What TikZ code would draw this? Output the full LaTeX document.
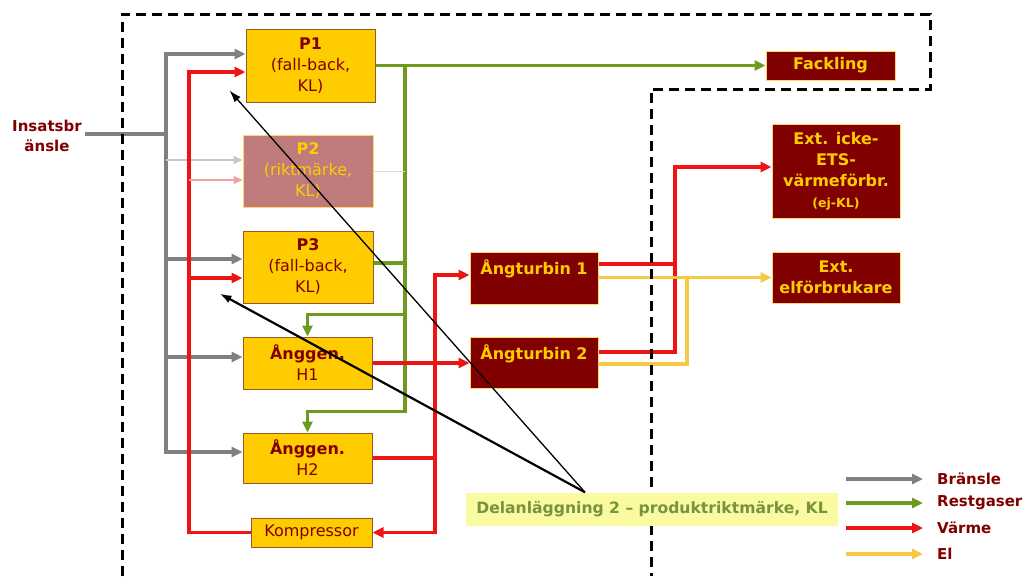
\documentclass[tikz,border=0pt]{standalone}
\usepackage{fontspec}
\setmainfont{DejaVu Sans}
\usetikzlibrary{arrows.meta,calc}
\pgfdeclarelayer{bg}
\pgfsetlayers{bg,main}
\definecolor{boxyel}{RGB}{255,204,0}
\definecolor{boxedge}{RGB}{150,90,40}
\definecolor{maroon}{RGB}{128,0,0}
\definecolor{rosy}{RGB}{192,124,124}
\definecolor{paleedge}{RGB}{255,215,100}
\definecolor{flowgrey}{RGB}{128,128,128}
\definecolor{flowgreen}{RGB}{108,155,30}
\definecolor{flowred}{RGB}{238,20,20}
\definecolor{flowyel}{RGB}{245,200,70}
\definecolor{fadegrey}{RGB}{200,200,200}
\definecolor{fadered}{RGB}{245,160,160}
\definecolor{fadegreen}{RGB}{215,225,200}
\definecolor{notefill}{RGB}{250,250,160}
\definecolor{notetext}{RGB}{119,147,60}
\newcommand{\mainsize}{\fontsize{15}{21}\selectfont}
\newcommand{\unitsize}{\fontsize{16}{21}\selectfont}
\tikzset{
  unit/.style={draw=boxedge, line width=1pt, fill=boxyel, text=maroon,
    font=\unitsize, align=center, inner sep=0pt},
  ext/.style={draw=paleedge, line width=1pt, fill=maroon, text=boxyel,
    font=\unitsize\bfseries, align=center, inner sep=0pt},
  flow/.style={line width=3.6pt},
  tip/.style={-{Triangle[length=11pt,width=10pt]}},
  fuel/.style={flow, draw=flowgrey},
  gas/.style={flow, draw=flowgreen},
  heat/.style={flow, draw=flowred},
  elec/.style={flow, draw=flowyel},
  faint/.style={line width=2pt},
  pointer/.style={draw=black, -{Latex[length=12pt,width=8pt]}},
  legendtext/.style={text=maroon, font=\mainsize\bfseries, anchor=west, inner sep=0pt},
  frame/.style={draw=black, line width=3pt, dash pattern=on 10pt off 6pt}
}
\begin{document}
\begin{tikzpicture}[x=1pt, y=-1pt, font=\mainsize]
\useasboundingbox (0,0) rectangle (1027,576);

% production units
\node[unit, minimum width=129pt, minimum height=73pt] (P1) at (310.5,65.5)
  {\textbf{P1}\\(fall-back,\\KL)};
\node[unit, fill=rosy, draw=paleedge, text=boxyel, minimum width=130pt,
  minimum height=72pt] (P2) at (308,171) {\textbf{P2}\\(riktmärke,\\KL)};
\node[unit, minimum width=130pt, minimum height=72pt] (P3) at (308,267)
  {\textbf{P3}\\(fall-back,\\KL)};
\node[unit, minimum width=129pt, minimum height=52pt] (H1) at (307.5,363)
  {\textbf{Ånggen.}\\H1};
\node[unit, minimum width=129pt, minimum height=50pt] (H2) at (307.5,458)
  {\textbf{Ånggen.}\\H2};
\node[unit, minimum width=121pt, minimum height=29pt] (Kmp) at (311.5,532.5)
  {Kompressor};

% turbines and external consumers
\node[ext, minimum width=128pt, minimum height=52pt] (AT1) at (534,278)
  {Ångturbin 1\\\mbox{}};
\node[ext, minimum width=128pt, minimum height=51pt] (AT2) at (534,362.5)
  {Ångturbin 2\\\mbox{}};
\node[ext, minimum width=129pt, minimum height=29pt] (Fk) at (830.5,65.5)
  {Fackling};
\node[ext, minimum width=128pt, minimum height=94pt] (EI) at (836,171)
  {Ext. icke-\\ETS-\\värmeförbr.\\{\fontsize{12.5}{21}\selectfont (ej-KL)}};
\node[ext, minimum width=128pt, minimum height=51pt] (EEl) at (836,277.5)
  {Ext.\\elförbrukare};

% input label and sub-installation note
\node[text=maroon, font=\fontsize{15}{20}\selectfont\bfseries, align=center,
  inner sep=3pt] (ins) at (47,136) {Insatsbr\\änsle};
\node[fill=notefill, text=notetext, font=\fontsize{15.6}{21}\selectfont\bfseries,
  minimum width=372pt, minimum height=33pt, inner sep=0pt] (lbl) at (652,509)
  {Delanläggning 2 – produktriktmärke, KL};

% legend
\node[legendtext] (lgB) at (937,479) {Bränsle};
\node[legendtext] (lgR) at (937,503) {Restgaser};
\node[legendtext] (lgV) at (937,528) {Värme};
\node[legendtext] (lgE) at (937,554) {El};

% junction lines
\coordinate (gx) at (166,134);
\coordinate (rl) at (189,0);
\coordinate (gn) at (405,0);
\coordinate (rr) at (435,0);
\coordinate (rv) at (675,0);
\coordinate (yv) at (687,0);
\coordinate (eiin) at ([yshift=4pt]EI.west);

\begin{pgfonlayer}{bg}
  % fuel
  \draw[fuel] (ins.east |- gx) -- (gx);
  \draw[fuel, tip] (gx) |- ([yshift=11.5pt]P1.west);
  \draw[fuel, tip] (gx) |- ([yshift=6pt]H2.west);
  \draw[fuel, tip] ([yshift=8pt]P3.west -| gx) -- ([yshift=8pt]P3.west);
  \draw[fuel, tip] ([yshift=6pt]H1.west -| gx) -- ([yshift=6pt]H1.west);
  \draw[faint, draw=fadegrey, -{Triangle[length=9pt,width=8pt]}]
    ([yshift=11pt]P2.west -| gx) -- ([yshift=11pt]P2.west);
  % heat to the boilers
  \draw[heat, tip] (Kmp.west) -- (Kmp.west -| rl) |- ([yshift=-6.5pt]P1.west);
  \draw[heat, tip] ([yshift=-11pt]P3.west -| rl) -- ([yshift=-11pt]P3.west);
  \draw[faint, draw=fadered, -{Triangle[length=9pt,width=8pt]}]
    ([yshift=-9pt]P2.west -| rl) -- ([yshift=-9pt]P2.west);
  % residual gases
  \draw[gas, tip] (P1.east) -- (Fk.west);
  \draw[gas, tip] (P1.east -| gn) |- ([yshift=22pt]H1.north) -- (H1.north);
  \draw[gas, tip] (P1.east -| gn) |- ([yshift=21pt]H2.north) -- (H2.north);
  \draw[gas] ([yshift=4pt]P3.east) -- ([yshift=4pt]P3.east -| gn);
  \draw[line width=1pt, draw=fadegreen] (P2.east) -- (P2.east -| gn);
  % steam
  \draw[heat, tip] (H1.east) -- (H1.east -| AT2.west);
  \draw[heat, tip] (H1.east -| rr) |- ([yshift=3pt]AT1.west);
  \draw[heat] (H2.east) -- (H2.east -| rr);
  \draw[heat, tip] (H1.east -| rr) |- (Kmp.east);
  % heat to external users
  \draw[heat, tip] ([yshift=10.5pt]AT2.east) -| (rv |- eiin) -- (eiin);
  \draw[heat] ([yshift=14pt]AT1.east) -- ([yshift=14pt]AT1.east -| rv);
  % electricity
  \draw[elec, tip] (AT1.east |- EEl.west) -- (EEl.west);
  \draw[elec] ([yshift=-1.5pt]AT2.east) -| (yv |- EEl.west);
  % system boundary
  \draw[frame] (122,576) -- (122,14) -- (930,14) -- (930,89) -- (651,89) -- (651,576);
  % legend arrows
  \draw[fuel, tip] ([xshift=-91pt]lgB.west) -- ([xshift=-14pt]lgB.west);
  \draw[gas, tip] ([xshift=-91pt]lgR.west) -- ([xshift=-14pt]lgR.west);
  \draw[heat, tip] ([xshift=-91pt]lgV.west) -- ([xshift=-14pt]lgV.west);
  \draw[elec, tip] ([xshift=-91pt]lgE.west) -- ([xshift=-14pt]lgE.west);
\end{pgfonlayer}

% pointers from the note
\coordinate (lp) at ([xshift=-67pt]lbl.north);
\coordinate (t1) at ([xshift=-16pt,yshift=12pt]P1.south west);
\coordinate (t2) at ([xshift=-23pt,yshift=10pt]P3.south west);
\draw[pointer, line width=1.3pt] (lp) -- (t1);
\draw[pointer, line width=2.2pt] (lp) -- (t2);
\end{tikzpicture}
\end{document}
